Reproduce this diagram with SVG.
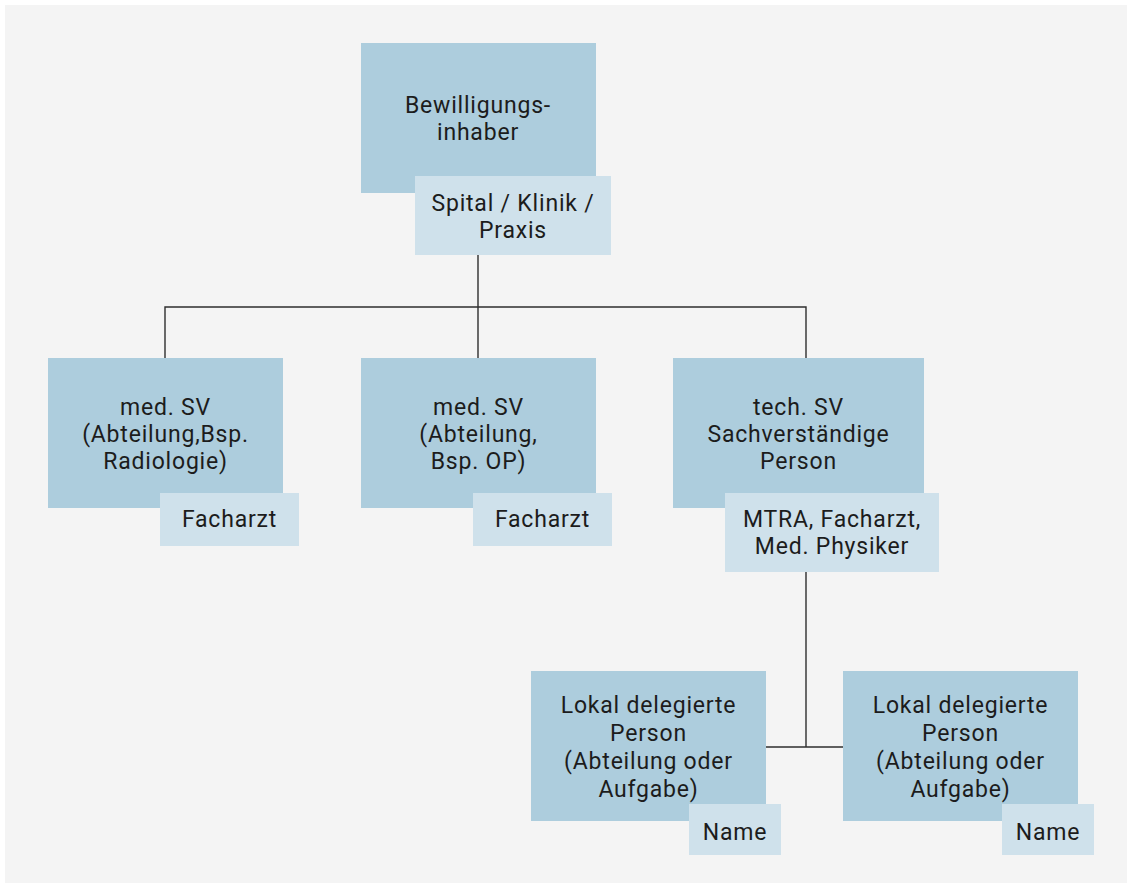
<svg xmlns="http://www.w3.org/2000/svg" width="1132" height="888" viewBox="0 0 1132 888">
<style>
.main{fill:#adcddd}
.sub{fill:#cfe1eb}
text{font-family:Roboto,"Liberation Sans",sans-serif;font-size:23px;fill:#1c1c1c;text-anchor:middle;letter-spacing:0.8px}
.conn{stroke:#2e2e2e;stroke-width:1.4;fill:none}
</style>
<rect x="0" y="0" width="1132" height="888" fill="#ffffff"/>
<rect x="5" y="5" width="1122" height="878" fill="#f4f4f4"/>
<g id="connectors">
<path class="conn" d="M478 255V358M165 358V307H806V358M806 572V747M766 747H843"/>
</g>
<g id="node-bewilligungsinhaber">
<rect class="main" x="361" y="43" width="235" height="150"/>
<text x="478" y="113">Bewilligungs-</text>
<text x="478" y="140">inhaber</text>
</g>
<g id="sub-spital">
<rect class="sub" x="415" y="176" width="196" height="79"/>
<text x="513" y="211">Spital / Klinik /</text>
<text x="513" y="238">Praxis</text>
</g>
<g id="node-med-sv-1">
<rect class="main" x="48" y="358" width="235" height="150"/>
<text x="165.5" y="415">med. SV</text>
<text x="165.5" y="442">(Abteilung,Bsp.</text>
<text x="165.5" y="469">Radiologie)</text>
</g>
<g id="sub-facharzt-1">
<rect class="sub" x="160" y="493" width="139" height="53"/>
<text x="229.5" y="527">Facharzt</text>
</g>
<g id="node-med-sv-2">
<rect class="main" x="361" y="358" width="235" height="150"/>
<text x="478.5" y="415">med. SV</text>
<text x="478.5" y="442">(Abteilung,</text>
<text x="478.5" y="469">Bsp. OP)</text>
</g>
<g id="sub-facharzt-2">
<rect class="sub" x="473" y="493" width="139" height="53"/>
<text x="542.5" y="527">Facharzt</text>
</g>
<g id="node-tech-sv">
<rect class="main" x="673" y="358" width="251" height="150"/>
<text x="798.5" y="415">tech. SV</text>
<text x="798.5" y="442">Sachverständige</text>
<text x="798.5" y="469">Person</text>
</g>
<g id="sub-mtra">
<rect class="sub" x="725" y="493" width="214" height="79"/>
<text x="832" y="527">MTRA, Facharzt,</text>
<text x="832" y="554">Med. Physiker</text>
</g>
<g id="node-lokal-1">
<rect class="main" x="531" y="671" width="235" height="150"/>
<text x="648.5" y="713">Lokal delegierte</text>
<text x="648.5" y="741">Person</text>
<text x="648.5" y="769">(Abteilung oder</text>
<text x="648.5" y="797">Aufgabe)</text>
</g>
<g id="sub-name-1">
<rect class="sub" x="689" y="804" width="92" height="51"/>
<text x="735" y="840">Name</text>
</g>
<g id="node-lokal-2">
<rect class="main" x="843" y="671" width="235" height="150"/>
<text x="960.5" y="713">Lokal delegierte</text>
<text x="960.5" y="741">Person</text>
<text x="960.5" y="769">(Abteilung oder</text>
<text x="960.5" y="797">Aufgabe)</text>
</g>
<g id="sub-name-2">
<rect class="sub" x="1002" y="804" width="92" height="51"/>
<text x="1048" y="840">Name</text>
</g>
</svg>
